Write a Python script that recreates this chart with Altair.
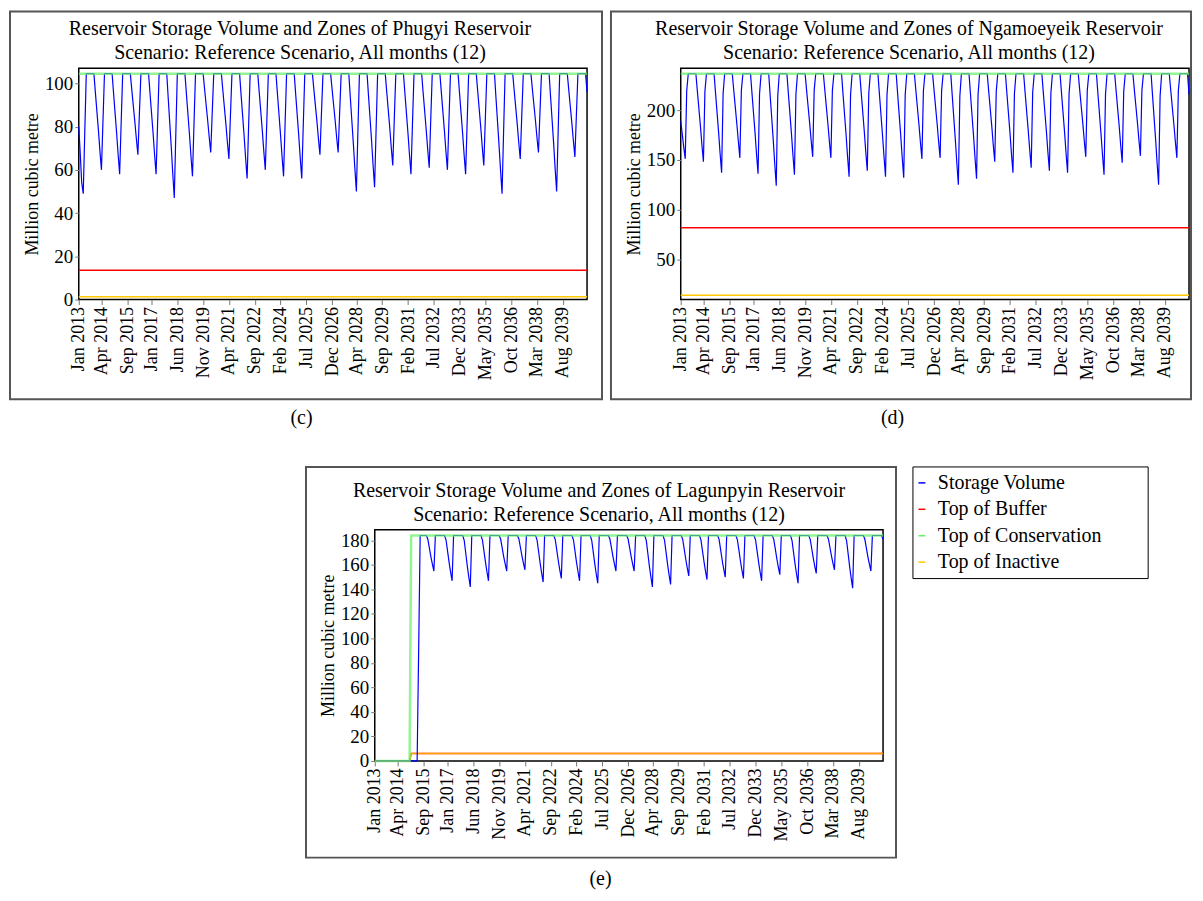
import altair as alt
import pandas as pd

FONT = "Liberation Serif"
W, H = 510, 232

months = pd.date_range("2013-01-01", periods=336, freq="MS")

tick_labels = ["Jan 2013", "Apr 2014", "Sep 2015", "Jan 2017", "Jun 2018", "Nov 2019",
               "Apr 2021", "Sep 2022", "Feb 2024", "Jul 2025", "Dec 2026", "Apr 2028",
               "Sep 2029", "Feb 2031", "Jul 2032", "Dec 2033", "May 2035", "Oct 2036",
               "Mar 2038", "Aug 2039"]

series_names = ["Storage Volume", "Top of Buffer", "Top of Conservation", "Top of Inactive"]
series_colors = ["#0000FF", "#FF0000", "#66EE66", "#FFC800"]

# monthly storage, Jan 2013 .. Dec 2040 (million cubic metre)
phugyi_storage = [
    80, 67, 54, 49, 77, 104.5, 104.5, 104.5, 104.5, 104.5, 104.5, 95.6,
    86.7, 77.8, 68.9, 60, 82.3, 104.5, 104.5, 104.5, 104.5, 104.5, 104.5, 95.2,
    85.9, 76.6, 67.3, 58, 81.3, 104.5, 104.5, 104.5, 104.5, 104.5, 104.5, 97,
    89.5, 82, 74.5, 67, 85.8, 104.5, 104.5, 104.5, 104.5, 104.5, 104.5, 95.2,
    85.9, 76.6, 67.3, 58, 81.3, 104.5, 104.5, 104.5, 104.5, 104.5, 104.5, 93,
    81.5, 70, 58.5, 47, 75.8, 104.5, 104.5, 104.5, 104.5, 104.5, 104.5, 95,
    85.5, 76, 66.5, 57, 80.8, 104.5, 104.5, 104.5, 104.5, 104.5, 104.5, 97.2,
    89.9, 82.6, 75.3, 68, 86.3, 104.5, 104.5, 104.5, 104.5, 104.5, 104.5, 96.6,
    88.7, 80.8, 72.9, 65, 84.8, 104.5, 104.5, 104.5, 104.5, 104.5, 104.5, 94.8,
    85.1, 75.4, 65.7, 56, 80.3, 104.5, 104.5, 104.5, 104.5, 104.5, 104.5, 95.6,
    86.7, 77.8, 68.9, 60, 82.3, 104.5, 104.5, 104.5, 104.5, 104.5, 104.5, 95,
    85.5, 76, 66.5, 57, 80.8, 104.5, 104.5, 104.5, 104.5, 104.5, 104.5, 94.8,
    85.1, 75.4, 65.7, 56, 80.3, 104.5, 104.5, 104.5, 104.5, 104.5, 104.5, 97,
    89.5, 82, 74.5, 67, 85.8, 104.5, 104.5, 104.5, 104.5, 104.5, 104.5, 97.2,
    89.9, 82.6, 75.3, 68, 86.3, 104.5, 104.5, 104.5, 104.5, 104.5, 104.5, 93.6,
    82.7, 71.8, 60.9, 50, 77.3, 104.5, 104.5, 104.5, 104.5, 104.5, 104.5, 94,
    83.5, 73, 62.5, 52, 78.3, 104.5, 104.5, 104.5, 104.5, 104.5, 104.5, 96,
    87.5, 79, 70.5, 62, 83.3, 104.5, 104.5, 104.5, 104.5, 104.5, 104.5, 95.2,
    85.9, 76.6, 67.3, 58, 81.3, 104.5, 104.5, 104.5, 104.5, 104.5, 104.5, 95.8,
    87.1, 78.4, 69.7, 61, 82.8, 104.5, 104.5, 104.5, 104.5, 104.5, 104.5, 95.6,
    86.7, 77.8, 68.9, 60, 82.3, 104.5, 104.5, 104.5, 104.5, 104.5, 104.5, 95.2,
    85.9, 76.6, 67.3, 58, 81.3, 104.5, 104.5, 104.5, 104.5, 104.5, 104.5, 96,
    87.5, 79, 70.5, 62, 83.3, 104.5, 104.5, 104.5, 104.5, 104.5, 104.5, 93.4,
    82.3, 71.2, 60.1, 49, 76.8, 104.5, 104.5, 104.5, 104.5, 104.5, 104.5, 96.6,
    88.7, 80.8, 72.9, 65, 84.8, 104.5, 104.5, 104.5, 104.5, 104.5, 104.5, 97.2,
    89.9, 82.6, 75.3, 68, 86.3, 104.5, 104.5, 104.5, 104.5, 104.5, 104.5, 93.6,
    82.7, 71.8, 60.9, 50, 77.3, 104.5, 104.5, 104.5, 104.5, 104.5, 104.5, 96.8,
    89.1, 81.4, 73.7, 66, 85.3, 104.5, 104.5, 104.5, 104.5, 104.5, 104.5, 96,
]

ngamoeyeik_storage = [
    189, 176, 163, 151, 219.4, 236.5, 236.5, 236.5, 236.5, 236.5, 236.5, 218.8,
    201.1, 183.4, 165.7, 148, 218.8, 236.5, 236.5, 236.5, 236.5, 236.5, 236.5, 216.6,
    196.7, 176.8, 156.9, 137, 216.6, 236.5, 236.5, 236.5, 236.5, 236.5, 236.5, 219.6,
    202.7, 185.8, 168.9, 152, 219.6, 236.5, 236.5, 236.5, 236.5, 236.5, 236.5, 216.4,
    196.3, 176.2, 156.1, 136, 216.4, 236.5, 236.5, 236.5, 236.5, 236.5, 236.5, 214,
    191.5, 169, 146.5, 124, 214, 236.5, 236.5, 236.5, 236.5, 236.5, 236.5, 216.2,
    195.9, 175.6, 155.3, 135, 216.2, 236.5, 236.5, 236.5, 236.5, 236.5, 236.5, 219.8,
    203.1, 186.4, 169.7, 153, 219.8, 236.5, 236.5, 236.5, 236.5, 236.5, 236.5, 219.6,
    202.7, 185.8, 168.9, 152, 219.6, 236.5, 236.5, 236.5, 236.5, 236.5, 236.5, 215.8,
    195.1, 174.4, 153.7, 133, 215.8, 236.5, 236.5, 236.5, 236.5, 236.5, 236.5, 217,
    197.5, 178, 158.5, 139, 217, 236.5, 236.5, 236.5, 236.5, 236.5, 236.5, 215.8,
    195.1, 174.4, 153.7, 133, 215.8, 236.5, 236.5, 236.5, 236.5, 236.5, 236.5, 215.6,
    194.7, 173.8, 152.9, 132, 215.6, 236.5, 236.5, 236.5, 236.5, 236.5, 236.5, 219.4,
    202.3, 185.2, 168.1, 151, 219.4, 236.5, 236.5, 236.5, 236.5, 236.5, 236.5, 219.6,
    202.7, 185.8, 168.9, 152, 219.6, 236.5, 236.5, 236.5, 236.5, 236.5, 236.5, 214.2,
    191.9, 169.6, 147.3, 125, 214.2, 236.5, 236.5, 236.5, 236.5, 236.5, 236.5, 215.4,
    194.3, 173.2, 152.1, 131, 215.4, 236.5, 236.5, 236.5, 236.5, 236.5, 236.5, 218.8,
    201.1, 183.4, 165.7, 148, 218.8, 236.5, 236.5, 236.5, 236.5, 236.5, 236.5, 216.6,
    196.7, 176.8, 156.9, 137, 216.6, 236.5, 236.5, 236.5, 236.5, 236.5, 236.5, 217.6,
    198.7, 179.8, 160.9, 142, 217.6, 236.5, 236.5, 236.5, 236.5, 236.5, 236.5, 217,
    197.5, 178, 158.5, 139, 217, 236.5, 236.5, 236.5, 236.5, 236.5, 236.5, 216.6,
    196.7, 176.8, 156.9, 137, 216.6, 236.5, 236.5, 236.5, 236.5, 236.5, 236.5, 219.8,
    203.1, 186.4, 169.7, 153, 219.8, 236.5, 236.5, 236.5, 236.5, 236.5, 236.5, 216.2,
    195.9, 175.6, 155.3, 135, 216.2, 236.5, 236.5, 236.5, 236.5, 236.5, 236.5, 218.6,
    200.7, 182.8, 164.9, 147, 218.6, 236.5, 236.5, 236.5, 236.5, 236.5, 236.5, 220,
    203.5, 187, 170.5, 154, 220, 236.5, 236.5, 236.5, 236.5, 236.5, 236.5, 214.2,
    191.9, 169.6, 147.3, 125, 214.2, 236.5, 236.5, 236.5, 236.5, 236.5, 236.5, 219.6,
    202.7, 185.8, 168.9, 152, 219.6, 236.5, 236.5, 236.5, 236.5, 236.5, 236.5, 215.7,
]

lagunpyin_storage = [
    0, 0, 0, 0, 0, 0, 0, 0, 0, 0, 0, 0,
    0, 0, 0, 0, 0, 0, 0, 0, 0, 0, 0, 0,
    0, 0, 0, 0, 0, 92, 184, 184, 184, 184, 184, 181.1,
    173.9, 166.6, 160.8, 155, 184, 184, 184, 184, 184, 184, 184, 180.3,
    171.1, 161.8, 154.4, 147, 184, 184, 184, 184, 184, 184, 184, 179.8,
    169.3, 158.8, 150.4, 142, 184, 184, 184, 184, 184, 184, 184, 180.3,
    171.1, 161.8, 154.4, 147, 184, 184, 184, 184, 184, 184, 184, 181.1,
    173.9, 166.6, 160.8, 155, 184, 184, 184, 184, 184, 184, 184, 181.2,
    174.2, 167.2, 161.6, 156, 184, 184, 184, 184, 184, 184, 184, 180.2,
    170.7, 161.2, 153.6, 146, 184, 184, 184, 184, 184, 184, 184, 180.5,
    171.8, 163, 156, 149, 184, 184, 184, 184, 184, 184, 184, 180.3,
    171.1, 161.8, 154.4, 147, 184, 184, 184, 184, 184, 184, 184, 180.1,
    170.4, 160.6, 152.8, 145, 184, 184, 184, 184, 184, 184, 184, 181.1,
    173.9, 166.6, 160.8, 155, 184, 184, 184, 184, 184, 184, 184, 181.1,
    173.9, 166.6, 160.8, 155, 184, 184, 184, 184, 184, 184, 184, 179.8,
    169.3, 158.8, 150.4, 142, 184, 184, 184, 184, 184, 184, 184, 180,
    170, 160, 152, 144, 184, 184, 184, 184, 184, 184, 184, 180.7,
    172.5, 164.2, 157.6, 151, 184, 184, 184, 184, 184, 184, 184, 180.4,
    171.4, 162.4, 155.2, 148, 184, 184, 184, 184, 184, 184, 184, 180.6,
    172.1, 163.6, 156.8, 150, 184, 184, 184, 184, 184, 184, 184, 180.5,
    171.8, 163, 156, 149, 184, 184, 184, 184, 184, 184, 184, 180.3,
    171.1, 161.8, 154.4, 147, 184, 184, 184, 184, 184, 184, 184, 180.8,
    172.8, 164.8, 158.4, 152, 184, 184, 184, 184, 184, 184, 184, 180.1,
    170.4, 160.6, 152.8, 145, 184, 184, 184, 184, 184, 184, 184, 180.9,
    173.2, 165.4, 159.2, 153, 184, 184, 184, 184, 184, 184, 184, 181.2,
    174.2, 167.2, 161.6, 156, 184, 184, 184, 184, 184, 184, 184, 179.7,
    169, 158.2, 149.6, 141, 184, 184, 184, 184, 184, 184, 184, 181.1,
    173.9, 166.6, 160.8, 155, 184, 184, 184, 184, 184, 184, 184, 181,
]

assert len(phugyi_storage) == 336
assert len(ngamoeyeik_storage) == 336
assert len(lagunpyin_storage) == 336

# zone levels as breakpoints (month index, value)
phugyi_zone_idx = [0, 335]
phugyi_buffer = [13.5, 13.5]
phugyi_conservation = [104.5, 104.5]
phugyi_inactive = [1.3, 1.3]

ngamoeyeik_zone_idx = [0, 335]
ngamoeyeik_buffer = [81.7, 81.7]
ngamoeyeik_conservation = [236.6, 236.6]
ngamoeyeik_inactive = [14, 14]

lagunpyin_zone_idx = [0, 23, 24, 335]
lagunpyin_buffer = [0, 0, 6, 6]
lagunpyin_conservation = [0, 0, 184, 184]
lagunpyin_inactive = [0, 0, 6, 6]

subtitle = "Scenario: Reference Scenario,  All months (12)"


def dt(ts):
    return alt.DateTime(year=int(ts.year), month=int(ts.month), date=1)


tick_values = [dt(pd.to_datetime(t, format="%b %Y")) for t in tick_labels]
color_scale = alt.Scale(domain=series_names, range=series_colors)
one_row = pd.DataFrame({"k": [0]})


def rect_layer(x1, x2, y1, y2, stroke, sw):
    return alt.Chart(one_row).mark_rect(fill="transparent", stroke=stroke, strokeWidth=sw).encode(
        x=alt.value(x1), x2=alt.value(x2), y=alt.value(y1), y2=alt.value(y2))


def text_layer(txt, tx, ty):
    return alt.Chart(one_row).mark_text(font=FONT, fontSize=20, color="black", align="center",
                                        baseline="alphabetic").encode(
        x=alt.value(tx), y=alt.value(ty), text=alt.value(txt))


def panel(title_line, storage, zidx, buf, cons, inact, ydomain, yticks, caption,
          title_x, cap_x, cap_y, frame, legend=False, inact_opacity=1.0):
    x = alt.X("date:T",
              scale=alt.Scale(domain=[dt(months[0]), dt(months[-1])], nice=False),
              axis=alt.Axis(values=tick_values, format="%b %Y", labelAngle=270,
                            labelAlign="right", labelBaseline="middle", labelFontSize=18,
                            labelPadding=2, tickSize=5, labelOverlap=False, labelFlush=False,
                            title=caption, titleX=cap_x, titleY=cap_y, titleAngle=0,
                            titleAlign="center", titleBaseline="middle", titleFontSize=20))
    y = alt.Y("value:Q",
              scale=alt.Scale(domain=ydomain, nice=False, zero=False),
              axis=alt.Axis(values=yticks, title="Million cubic metre", titleFontSize=18,
                            titlePadding=3, labelFontSize=19, tickSize=4, labelPadding=2,
                            labelFlush=False))
    if legend:
        leg = alt.Legend(orient="none", legendX=539, legendY=-57, title=None,
                         symbolType="stroke", symbolSize=49, symbolStrokeWidth=1.5,
                         symbolOpacity=1, labelFont=FONT, labelFontSize=20,
                         labelColor="black", labelOffset=6, rowPadding=6.5, padding=0,
                         labelLimit=400)
    else:
        leg = None
    color = alt.Color("series:N", scale=color_scale, legend=leg)

    zdates = months[zidx]

    def zone_df(vals, name):
        return pd.DataFrame({"date": zdates, "value": vals, "series": name})

    st_df = pd.DataFrame({"date": months, "value": storage, "series": "Storage Volume"})

    layers = [
        rect_layer(*frame, "#555555", 2),
        text_layer(title_line, title_x, -33),
        text_layer(subtitle, title_x, -9),
        alt.Chart(zone_df(buf, "Top of Buffer")).mark_line(strokeWidth=1.5).encode(x=x, y=y, color=color),
        alt.Chart(zone_df(inact, "Top of Inactive")).mark_line(strokeWidth=1.5, opacity=inact_opacity).encode(x=x, y=y, color=color),
        alt.Chart(st_df).mark_line(strokeWidth=1.2).encode(x=x, y=y, color=color),
        alt.Chart(zone_df(cons, "Top of Conservation")).mark_line(strokeWidth=2.5, opacity=0.7).encode(x=x, y=y, color=color),
    ]
    if legend:
        layers.append(rect_layer(540, 776, -63, 49, "black", 1))
    return alt.layer(*layers).properties(width=W, height=H)


c = panel("Reservoir Storage Volume and Zones of Phugyi Reservoir", phugyi_storage,
          phugyi_zone_idx, phugyi_buffer, phugyi_conservation, phugyi_inactive,
          [0, 107], [0, 20, 40, 60, 80, 100], "(c)", 222, 223, 118,
          (-69, 525, -57, 332))
d = panel("Reservoir Storage Volume and Zones of Ngamoeyeik Reservoir", ngamoeyeik_storage,
          ngamoeyeik_zone_idx, ngamoeyeik_buffer, ngamoeyeik_conservation, ngamoeyeik_inactive,
          [9.6, 242], [50, 100, 150, 200], "(d)", 229, 212, 118,
          (-70, 512, -57, 332))
e = panel("Reservoir Storage Volume and Zones of  Lagunpyin Reservoir", lagunpyin_storage,
          lagunpyin_zone_idx, lagunpyin_buffer, lagunpyin_conservation, lagunpyin_inactive,
          [0, 188.7], [0, 20, 40, 60, 80, 100, 120, 140, 160, 180], "(e)", 225, 226, 118,
          (-69, 523, -63, 329), legend=True, inact_opacity=0.8)

spacer = alt.Chart(one_row).mark_point(opacity=0).encode(
    x=alt.value(0), y=alt.value(0)).properties(
    width=1, height=H, view=alt.ViewBackground(stroke="transparent"))

res = dict(x="independent", y="independent", color="independent")
row1 = alt.hconcat(c, d, spacing=94, bounds="flush").resolve_scale(**res)
row2 = alt.hconcat(spacer, e, spacing=296, bounds="flush").resolve_scale(**res)

chart = alt.vconcat(row1, row2, spacing=463, bounds="flush").resolve_scale(**res).properties(
    padding=0, background="white"
).configure_view(stroke="black", strokeWidth=1.5).configure_axis(
    labelFont=FONT, labelColor="black", titleFont=FONT, titleColor="black",
    titleFontWeight="normal", domain=False, grid=False, tickColor="#777777"
)

chart.save("out.html", embed_options={"renderer": "svg", "actions": False})
